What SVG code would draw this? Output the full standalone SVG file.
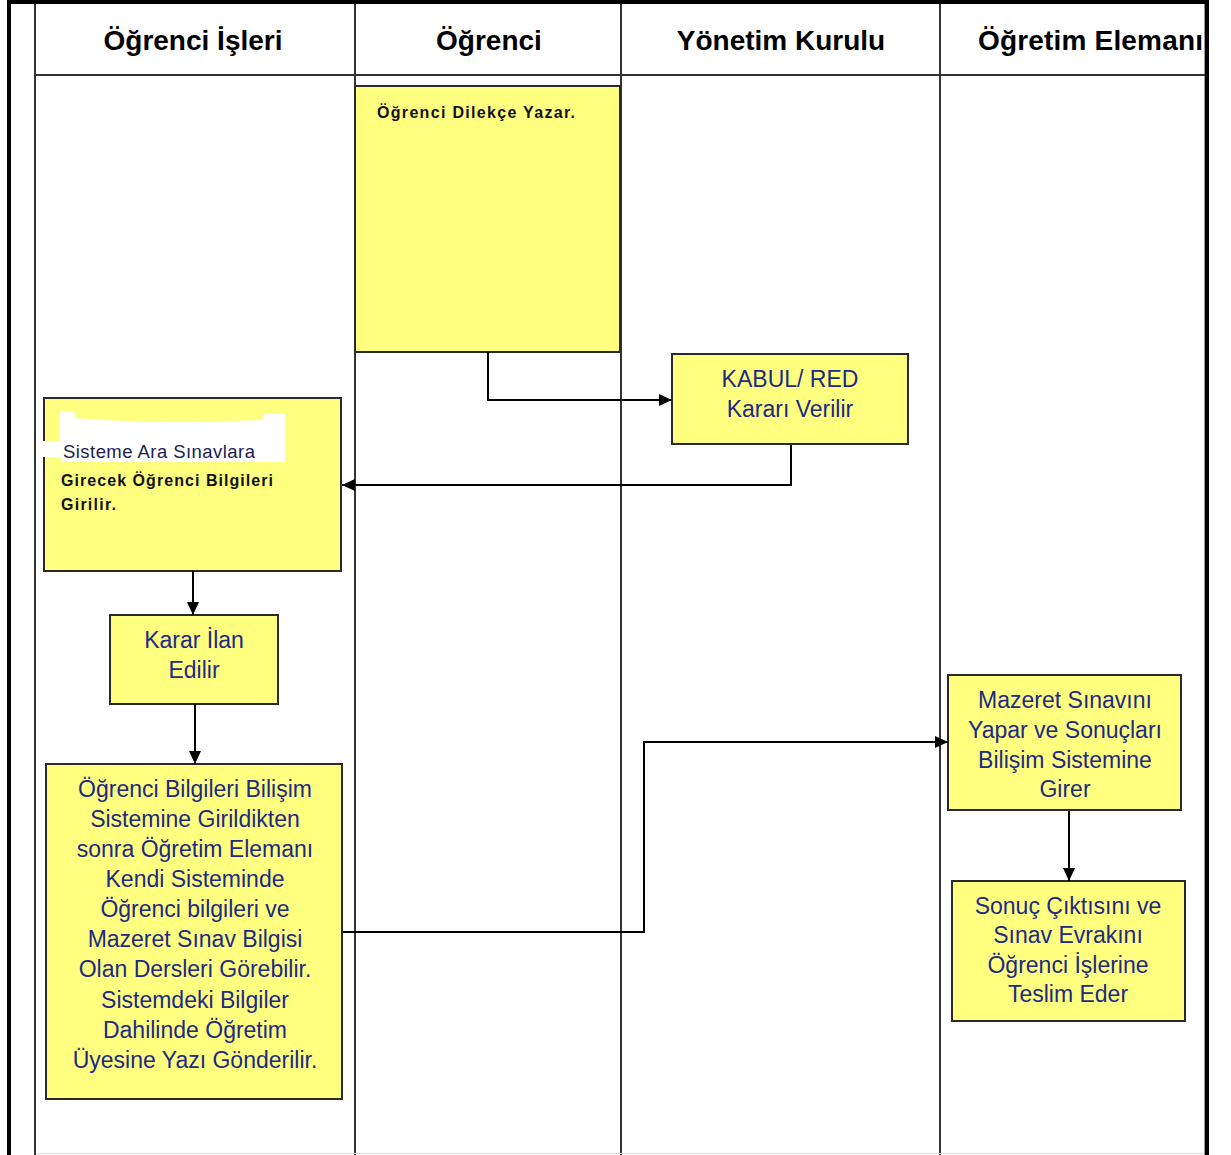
<svg xmlns="http://www.w3.org/2000/svg" width="1231" height="1155" viewBox="0 0 1231 1155">
<defs>
<style>
.frame{stroke:#000;fill:none}
.lane{stroke:#333;stroke-width:2;fill:none}
.box{fill:#ffff80;stroke:#2a2a2a;stroke-width:2}
.hdr{font-family:"Liberation Sans",Arial,sans-serif;font-weight:bold;font-size:28px;fill:#000;text-anchor:middle}
.txt{font-family:"Liberation Sans",Arial,sans-serif;font-size:23px;fill:#202a84;text-anchor:middle}
.btxt{font-family:"Liberation Sans",Arial,sans-serif;font-weight:bold;font-size:16px;fill:#111}
.stxt{font-family:"Liberation Sans",Arial,sans-serif;font-size:18.5px;fill:#1c1c50}
.conn{stroke:#000;stroke-width:2;fill:none;marker-end:url(#ah)}
</style>
<marker id="ah" markerUnits="userSpaceOnUse" markerWidth="13" markerHeight="12" refX="13" refY="6" orient="auto">
<path d="M0,0 L13,6 L0,12 z" fill="#000"/>
</marker>
</defs>
<rect width="1231" height="1155" fill="#fff"/>

<g id="frame">
<line class="frame" x1="7" y1="2" x2="1209" y2="2" stroke-width="4"/>
<line class="frame" x1="9" y1="0" x2="9" y2="1155" stroke-width="4"/>
<line class="frame" x1="1207" y1="0" x2="1207" y2="1155" stroke-width="4"/>
<line x1="1204.5" y1="4" x2="1204.5" y2="1155" stroke="#999" stroke-width="1"/>
<line class="lane" x1="35" y1="4" x2="35" y2="1155"/>
<line class="lane" x1="35" y1="75" x2="1205" y2="75"/>
<line class="lane" x1="355" y1="4" x2="355" y2="1155"/>
<line class="lane" x1="621" y1="4" x2="621" y2="1155"/>
<line class="lane" x1="940" y1="4" x2="940" y2="1155"/>
<line x1="36" y1="1153.5" x2="1204" y2="1153.5" stroke="#ddd" stroke-width="1"/>
</g>

<g id="headers">
<text class="hdr" x="193" y="50">Öğrenci İşleri</text>
<text class="hdr" x="489" y="50">Öğrenci</text>
<text class="hdr" x="781" y="50">Yönetim Kurulu</text>
<text class="hdr" x="978" y="50" style="text-anchor:start" textLength="225" lengthAdjust="spacing">Öğretim Elemanı</text>
</g>

<g id="node-dilekce">
<rect class="box" x="355" y="86" width="265" height="266"/>
<text class="btxt" x="377" y="118" textLength="198" lengthAdjust="spacing">Öğrenci Dilekçe Yazar.</text>
</g>

<g id="node-kabul">
<rect class="box" x="672" y="354" width="236" height="90"/>
<text class="txt" x="790" y="387">KABUL/ RED</text>
<text class="txt" x="790" y="417">Kararı Verilir</text>
</g>

<g id="node-sisteme">
<rect class="box" x="44" y="398" width="297" height="173"/>
<polygon points="60,411 74,411 76,418 100,420 130,421 180,422 230,421 262,420 264,414 285,414 285,462 62,462 62,457 42,457 42,441 60,441" fill="#fff"/>
<text class="stxt" x="63" y="458" textLength="192" lengthAdjust="spacing">Sisteme Ara Sınavlara</text>
<text class="btxt" x="61" y="486" textLength="212" lengthAdjust="spacing">Girecek Öğrenci  Bilgileri</text>
<text class="btxt" x="61" y="510" textLength="55" lengthAdjust="spacing">Girilir.</text>
</g>

<g id="node-karar">
<rect class="box" x="110" y="615" width="168" height="89"/>
<text class="txt" x="194" y="648">Karar İlan</text>
<text class="txt" x="194" y="678">Edilir</text>
</g>

<g id="node-bilgiler">
<rect class="box" x="46" y="764" width="296" height="335"/>
<text class="txt" x="195" y="797">Öğrenci Bilgileri Bilişim</text>
<text class="txt" x="195" y="827">Sistemine Girildikten</text>
<text class="txt" x="195" y="857">sonra Öğretim Elemanı</text>
<text class="txt" x="195" y="887">Kendi Sisteminde</text>
<text class="txt" x="195" y="917">Öğrenci bilgileri ve</text>
<text class="txt" x="195" y="947">Mazeret Sınav Bilgisi</text>
<text class="txt" x="195" y="977">Olan Dersleri Görebilir.</text>
<text class="txt" x="195" y="1008">Sistemdeki Bilgiler</text>
<text class="txt" x="195" y="1038">Dahilinde Öğretim</text>
<text class="txt" x="195" y="1068">Üyesine Yazı Gönderilir.</text>
</g>

<g id="node-mazeret">
<rect class="box" x="948" y="675" width="233" height="135"/>
<text class="txt" x="1065" y="708">Mazeret Sınavını</text>
<text class="txt" x="1065" y="738">Yapar ve Sonuçları</text>
<text class="txt" x="1065" y="768">Bilişim Sistemine</text>
<text class="txt" x="1065" y="797">Girer</text>
</g>

<g id="node-sonuc">
<rect class="box" x="952" y="881" width="233" height="140"/>
<text class="txt" x="1068" y="914">Sonuç Çıktısını ve</text>
<text class="txt" x="1068" y="943">Sınav Evrakını</text>
<text class="txt" x="1068" y="973">Öğrenci İşlerine</text>
<text class="txt" x="1068" y="1002">Teslim Eder</text>
</g>

<g id="connectors">
<path class="conn" d="M488,352 V400 H672"/>
<path class="conn" d="M791,445 V485 H342"/>
<path class="conn" d="M193,571 V615"/>
<path class="conn" d="M195,704 V764"/>
<path class="conn" d="M343,932 H644 V742 H948"/>
<path class="conn" d="M1069,811 V881"/>
</g>
</svg>
